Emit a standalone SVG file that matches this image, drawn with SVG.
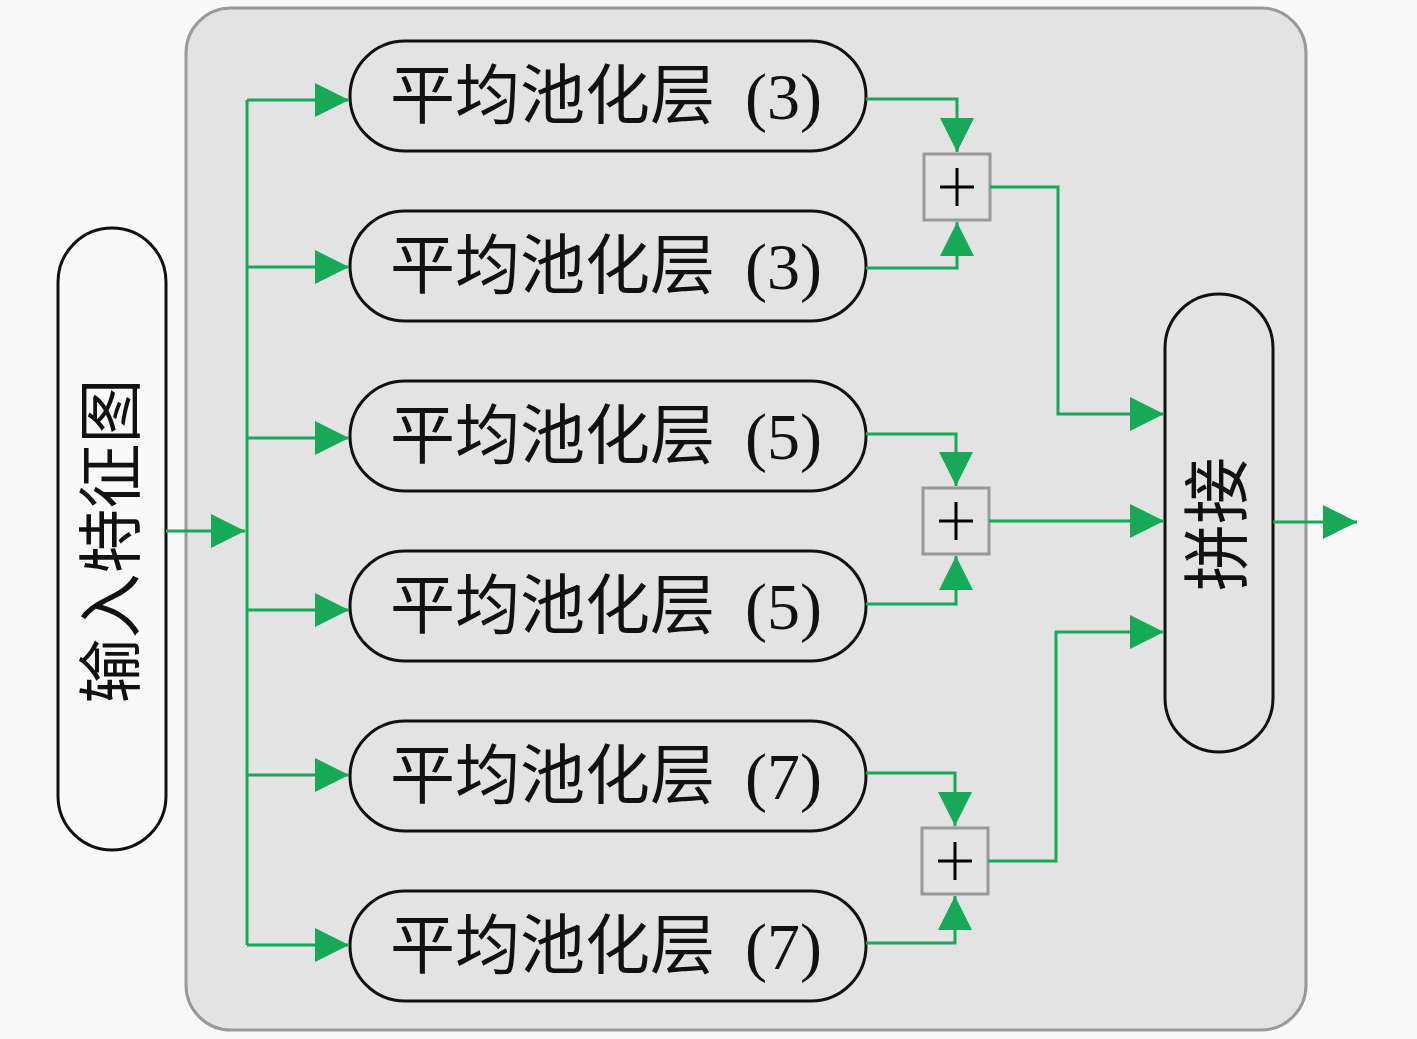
<svg xmlns="http://www.w3.org/2000/svg" width="1417" height="1039" viewBox="0 0 1417 1039">
<defs>
<style>
.node{fill:#e3e3e3;stroke:#111;stroke-width:3}
.inode{fill:#f9f9f9;stroke:#111;stroke-width:3}
.plus{fill:#e3e3e3;stroke:#999;stroke-width:3}
.pl{stroke:#000;stroke-width:3}
.lbl{font-family:"Liberation Serif","Noto Sans CJK SC",serif;font-size:65px;fill:#111;dominant-baseline:central}
.mid{text-anchor:middle}
.num{font-family:"Liberation Serif",serif;font-size:66px;fill:#111;dominant-baseline:central}
.c{fill:none;stroke:#17a858;stroke-width:3}
</style>
<marker id="ah" markerUnits="userSpaceOnUse" markerWidth="36" markerHeight="36" refX="34" refY="17" orient="auto">
<path d="M0,0 L34,17 L0,34 Z" fill="#17a858"/>
</marker>
</defs>
<rect x="0" y="0" width="1417" height="1039" fill="#f9f9f9"/>
<rect x="186" y="8" width="1120" height="1022" rx="45" fill="#e3e3e3" stroke="#999" stroke-width="3"/>
<g id="input">
<rect class="inode" x="58" y="228" width="108" height="622" rx="54"/>
<text class="lbl mid" transform="translate(112,541) rotate(-90)">输入特征图</text>
</g>
<g id="pool1"><rect class="node" x="350" y="41" width="516" height="110" rx="55"/><text class="lbl" x="390" y="96">平均池化层</text><text class="num" x="745" y="96">(3)</text></g>
<g id="pool2"><rect class="node" x="350" y="211" width="516" height="110" rx="55"/><text class="lbl" x="390" y="266">平均池化层</text><text class="num" x="745" y="266">(3)</text></g>
<g id="pool3"><rect class="node" x="350" y="381" width="516" height="110" rx="55"/><text class="lbl" x="390" y="436">平均池化层</text><text class="num" x="745" y="436">(5)</text></g>
<g id="pool4"><rect class="node" x="350" y="551" width="516" height="110" rx="55"/><text class="lbl" x="390" y="606">平均池化层</text><text class="num" x="745" y="606">(5)</text></g>
<g id="pool5"><rect class="node" x="350" y="721" width="516" height="110" rx="55"/><text class="lbl" x="390" y="776">平均池化层</text><text class="num" x="745" y="776">(7)</text></g>
<g id="pool6"><rect class="node" x="350" y="891" width="516" height="110" rx="55"/><text class="lbl" x="390" y="946">平均池化层</text><text class="num" x="745" y="946">(7)</text></g>
<g id="add1"><rect class="plus" x="924" y="154" width="66" height="66"/><path class="pl" d="M940,187 H974 M957,168 V206"/></g>
<g id="add2"><rect class="plus" x="923" y="488" width="66" height="66"/><path class="pl" d="M939,521 H973 M956,502 V540"/></g>
<g id="add3"><rect class="plus" x="922" y="828" width="66" height="66"/><path class="pl" d="M938,861 H972 M955,842 V880"/></g>
<g id="concat">
<rect class="node" x="1165" y="294" width="108" height="458" rx="54"/>
<text class="lbl mid" transform="translate(1218,524) rotate(-90)" style="font-size:67px">拼接</text>
</g>
<g id="connectors">
<path class="c" d="M166,531 H245" marker-end="url(#ah)"/>
<path class="c" d="M247,100 V945"/>
<path class="c" d="M247,100 H349" marker-end="url(#ah)"/>
<path class="c" d="M247,267 H349" marker-end="url(#ah)"/>
<path class="c" d="M247,438 H349" marker-end="url(#ah)"/>
<path class="c" d="M247,610 H349" marker-end="url(#ah)"/>
<path class="c" d="M247,775 H349" marker-end="url(#ah)"/>
<path class="c" d="M247,945 H349" marker-end="url(#ah)"/>
<path class="c" d="M866,99 H957 V152" marker-end="url(#ah)"/>
<path class="c" d="M866,268 H957 V222" marker-end="url(#ah)"/>
<path class="c" d="M866,434 H956 V486" marker-end="url(#ah)"/>
<path class="c" d="M866,604 H956 V556" marker-end="url(#ah)"/>
<path class="c" d="M866,773 H955 V826" marker-end="url(#ah)"/>
<path class="c" d="M866,943 H955 V896" marker-end="url(#ah)"/>
<path class="c" d="M990,187 H1058 V414 H1164" marker-end="url(#ah)"/>
<path class="c" d="M989,521 H1164" marker-end="url(#ah)"/>
<path class="c" d="M988,861 H1056 V632 H1164" marker-end="url(#ah)"/>
<path class="c" d="M1273,522 H1357" marker-end="url(#ah)"/>
</g>
</svg>
